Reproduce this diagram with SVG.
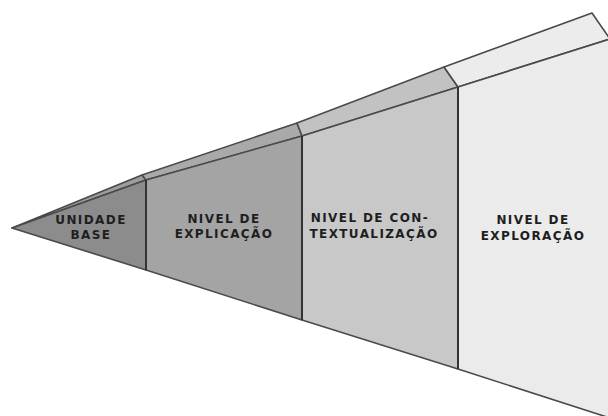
<svg xmlns="http://www.w3.org/2000/svg" width="608" height="416" viewBox="0 0 608 416">
<style>
.edge{stroke:#4a4a4a;stroke-width:1.6;stroke-linejoin:round}
.div{stroke:#333;stroke-width:2}
.lbl{font-family:"DejaVu Sans",Verdana,sans-serif;font-weight:bold;font-size:12px;letter-spacing:1.4px;fill:#1e1e1e;text-anchor:middle}
</style>
<rect width="608" height="416" fill="#ffffff"/>
<g id="unidade-base">
<polygon class="edge" points="12,228 142,175 146,180" fill="#9c9c9c"/>
<polygon class="edge" points="12,228 146,180 146,270" fill="#8c8c8c"/>
<text class="lbl" x="91" y="224">UNIDADE</text>
<text class="lbl" x="91" y="239">BASE</text>
</g>
<g id="nivel-explicacao">
<polygon class="edge" points="146,180 142,175 297,123 302,136" fill="#a9a9a9"/>
<polygon class="edge" points="146,180 302,136 302,320 146,270" fill="#a4a4a4"/>
<text class="lbl" x="224" y="223">NIVEL DE</text>
<text class="lbl" x="224" y="238">EXPLICAÇÃO</text>
</g>
<g id="nivel-contextualizacao">
<polygon class="edge" points="302,136 297,123 444,67 458,87" fill="#c2c2c2"/>
<polygon class="edge" points="302,136 458,87 458,369 302,320" fill="#c8c8c8"/>
<text class="lbl" x="370" y="222">NIVEL DE CON-</text>
<text class="lbl" x="374" y="238">TEXTUALIZAÇÃO</text>
</g>
<g id="nivel-exploracao">
<polygon class="edge" points="458,87 444,67 592,13 610,39" fill="#ececec"/>
<polygon class="edge" points="458,87 610,39 610,418 458,369" fill="#ebebeb"/>
<text class="lbl" x="533" y="224">NIVEL DE</text>
<text class="lbl" x="533" y="240">EXPLORAÇÃO</text>
</g>
<g id="dividers">
<line class="div" x1="146" y1="180" x2="146" y2="270"/>
<line class="div" x1="302" y1="136" x2="302" y2="320"/>
<line class="div" x1="458" y1="87" x2="458" y2="369"/>
</g>
</svg>
